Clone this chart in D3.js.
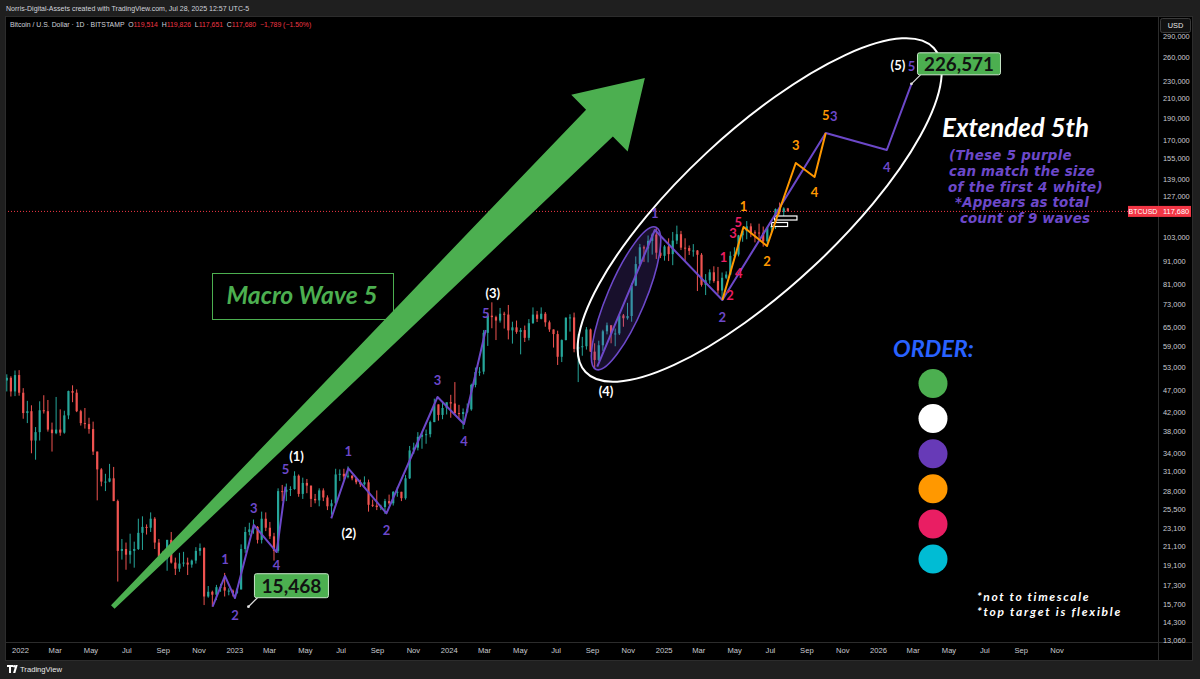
<!DOCTYPE html>
<html>
<head>
<meta charset="utf-8">
<script src="https://cdn.jsdelivr.net/npm/d3@7"></script>
<style>
  html, body { margin: 0; padding: 0; background: #1f1f1f; }
  svg { display: block; }
</style>
</head>
<body>
<svg id="chart" width="1200" height="679"></svg>
<script>
// ---------------- data: BTC/USD weekly candles (thousands of USD), Bitstamp ----------------
const weekStart = "2021-12-06";
const openK = [49.4,50.1,46.7,50.8,
  46.4,41.8,42.2,36.3,37.9,42.4,42.2,38.4,37.7,38.4,37.8,41.3,46.8,46.4,42.2,39.7,39.5,38.5,34.3,31.3,29.4,29.4,29.9,26.6,20.6,20.8,20.2,20.6,20.8,22.6,23.3,23.2,24.3,21.5,20.0,19.8,21.8,19.4,18.8,19.3,19.4,19.2,19.6,20.6,20.9,16.3,16.7,16.45,17.1,17.1,16.8,16.8,
  16.6,16.9,20.8,22.7,23.0,23.3,21.8,24.3,23.2,22.2,20.6,28.0,27.9,28.2,28.3,30.3,27.6,29.2,28.8,26.9,26.7,28.1,27.1,25.9,26.3,30.5,30.6,30.2,30.3,29.9,29.3,29.0,29.3,26.1,26.0,25.8,25.8,26.6,26.3,27.9,27.9,27.0,29.9,34.5,35.0,37.0,37.4,37.5,39.9,43.7,41.4,42.9,
  44.2,43.9,41.8,41.6,42.0,42.6,48.3,51.6,51.7,63.1,68.9,68.4,67.2,69.6,69.3,63.9,64.9,63.4,64.0,61.5,66.3,69.3,67.8,69.6,66.6,64.2,62.7,55.8,60.8,68.2,68.3,58.1,58.7,58.9,64.2,57.3,54.9,59.2,63.6,65.6,62.8,62.9,69.0,68.0,68.8,80.4,89.8,97.9,97.3,101.2,104.5,95.2,93.7,
  98.3,94.5,101.3,104.7,97.7,97.5,96.1,96.3,94.2,80.7,82.6,86.1,82.3,78.4,83.7,85.1,93.7,94.3,104.1,106.4,109.0,105.7,105.6,105.5,100.9,108.4,109.2,119.1,117.3,119.514];
const highK = [51.0,50.5,52.0,52.1,
  47.5,44.5,43.5,38.9,44.4,45.8,44.7,39.8,45.4,42.6,42.3,46.9,48.2,47.2,42.5,42.9,40.8,40.0,34.3,31.5,30.6,32.2,31.7,26.8,21.9,21.5,22.5,21.6,24.3,24.6,23.6,25.1,24.5,21.9,20.6,21.8,22.7,19.9,20.4,20.5,19.9,19.7,21.0,21.4,21.0,17.2,16.8,17.3,17.4,18.4,17.0,16.9,
  17.0,21.3,23.3,23.8,24.2,23.4,25.2,25.1,23.9,22.6,28.4,28.9,29.1,28.7,31.0,30.5,30.0,29.8,28.8,27.6,28.4,28.4,27.4,26.8,31.4,31.3,31.4,31.8,30.4,29.9,29.7,30.2,29.7,26.8,28.1,26.1,26.9,27.5,28.0,28.6,27.9,30.4,35.3,35.9,37.9,38.0,38.4,40.2,45.0,43.7,44.3,44.0,
  45.9,49.0,43.6,42.8,43.9,48.6,52.8,52.9,64.0,70.0,73.8,68.9,71.7,70.3,72.8,66.8,67.2,64.7,65.5,67.7,71.9,70.6,71.9,70.2,67.2,64.2,63.8,61.0,68.3,69.4,70.0,62.7,61.8,65.0,64.5,59.8,60.6,64.1,66.5,65.6,64.5,69.0,69.5,73.6,81.5,93.4,99.6,98.8,104.0,105.2,108.3,99.9,99.0,
  102.5,105.9,109.4,106.5,102.5,98.8,99.5,96.5,95.0,85.3,87.4,88.8,88.5,86.0,86.5,95.8,97.9,104.3,106.6,112.0,110.7,106.8,110.5,108.9,108.5,110.5,119.5,123.2,120.2,119.826];
const lowK = [46.7,45.5,45.6,45.7,
  40.6,39.7,34.0,32.9,36.3,41.7,38.0,34.3,37.5,37.2,37.6,40.5,44.2,42.0,39.2,38.6,37.6,33.7,26.7,28.7,28.0,29.3,26.6,17.6,19.7,18.7,19.3,18.9,20.7,20.7,22.4,22.7,20.8,19.8,19.6,18.6,19.3,18.2,18.5,19.0,18.2,18.9,19.3,20.1,15.6,16.2,15.468,16.0,16.7,16.3,16.4,16.3,
  16.5,16.9,20.4,22.3,22.5,21.4,21.4,22.8,21.9,19.6,20.4,26.6,26.6,27.3,28.2,27.2,26.9,27.7,25.8,26.3,25.9,26.6,25.4,24.8,26.2,29.5,29.7,29.9,29.6,29.0,28.6,28.8,25.2,25.8,25.4,25.4,24.9,26.1,26.0,27.2,26.6,26.8,29.8,33.9,34.5,34.8,35.7,36.9,39.9,40.2,40.5,41.5,
  40.8,41.6,40.6,38.5,41.8,42.3,47.7,50.6,51.0,59.0,64.6,60.8,66.5,64.5,61.0,59.7,62.8,56.5,60.2,60.7,66.1,66.7,67.6,65.1,63.4,58.5,53.5,54.3,60.7,63.5,57.1,49.0,56.1,57.9,57.2,52.5,54.6,57.5,62.6,59.8,58.9,62.4,65.1,67.5,66.8,80.2,89.3,90.8,90.6,94.3,92.2,92.6,91.4,
  91.2,89.3,99.5,96.5,91.2,94.1,93.3,78.2,80.0,76.6,81.2,81.6,77.1,74.5,83.1,85.1,92.8,93.4,100.7,102.0,103.1,100.4,102.7,98.2,99.7,105.2,107.5,115.8,114.7,117.651];
const closeK = [50.1,46.7,50.8,46.4,
  41.8,42.2,36.3,37.9,42.4,42.2,38.4,37.7,38.4,37.8,41.3,46.8,46.4,42.2,39.7,39.5,38.5,34.3,31.3,29.4,29.4,29.9,26.6,20.6,20.8,20.2,20.6,20.8,22.6,23.3,23.2,24.3,21.5,20.0,19.8,21.8,19.4,18.8,19.3,19.4,19.2,19.6,20.6,20.9,16.3,16.7,16.45,17.1,17.1,16.8,16.8,16.6,
  16.9,20.8,22.7,23.0,23.3,21.8,24.3,23.2,22.2,20.6,28.0,27.9,28.2,28.3,30.3,27.6,29.2,28.8,26.9,26.7,28.1,27.1,25.9,26.3,30.5,30.6,30.2,30.3,29.9,29.3,29.0,29.3,26.1,26.0,25.8,25.8,26.6,26.3,27.9,27.9,27.0,29.9,34.5,35.0,37.0,37.4,37.5,39.9,43.7,41.4,42.9,44.2,
  43.9,41.8,41.6,42.0,42.6,48.3,51.6,51.7,63.1,68.9,68.4,67.2,69.6,69.3,63.9,64.9,63.4,64.0,61.5,66.3,69.3,67.8,69.6,66.6,64.2,62.7,55.8,60.8,68.2,68.3,58.1,58.7,58.9,64.2,57.3,54.9,59.2,63.6,65.6,62.8,62.9,69.0,68.0,68.8,80.4,89.8,97.9,97.3,101.2,104.5,95.2,93.7,98.3,
  94.5,101.3,104.7,97.7,97.5,96.1,96.3,94.2,80.7,82.6,86.1,82.3,78.4,83.7,85.1,93.7,94.3,104.1,106.4,109.0,105.7,105.6,105.5,100.9,108.4,109.2,119.1,117.3,119.5,117.68];

const lastPrice = 117680;

// price axis ticks
const priceTicks = [290000,260000,230000,210000,190000,170000,155000,139000,127000,103000,91000,81000,73000,65000,59000,53000,47000,42000,38000,34000,31000,28000,25500,23100,21100,19100,17300,15700,14300,13060];

// Elliott wave counts: [date, price, label]
const purpleWaves = [
  [["2022-11-25",15468,""],["2022-12-16",18110,"1"],["2023-01-02",16170,"2"],["2023-02-03",23530,"3"],["2023-03-14",20480,"4"],["2023-03-29",28640,"5"]],
  [["2023-06-15",24350,""],["2023-07-14",31480,"1"],["2023-09-17",24980,"2"],["2023-12-13",45390,"3"],["2024-01-27",39510,"4"],["2024-03-04",64020,"5"]],
  [["2024-09-10",53030,""],["2024-12-17",106970,"1"],["2025-04-11",74680,"2"],["2025-10-04",176000,"3"],["2026-01-16",161300,"4"],["2026-02-27",226571,"5"]]
];
const orangeWave = [["2025-04-11",74680,""],["2025-05-17",108630,"1"],["2025-06-26",98540,"2"],["2025-08-14",150890,"3"],["2025-09-15",140430,"4"],["2025-10-04",176000,"5"]];
const pinkLabels = [["2025-04-13",93120,"1"],["2025-04-24",76620,"2"],["2025-04-29",105340,"3"],["2025-05-09",85780,"4"],["2025-05-08",111000,"5"]];
const degreeLabels = [["2023-04-17",33530,"(1)"],["2023-07-15",22580,"(2)"],["2024-03-16",77410,"(3)"],["2024-09-25",46810,"(4)"],["2026-02-04",249520,"(5)"]];

// chart drawings anchored to time/price
const arrowTail = ["2022-06-08",15440];
const arrowTip = ["2024-11-30",233420];
const bigEllipse = [["2024-08-21",51610],["2026-04-06",272300]];
const waveEllipse = [["2024-09-10",53030],["2024-12-17",106970]];
const priceLabels = [["2023-01-25",15468],["2026-02-27",226571]];
const positionBoxes = [[["2025-07-09",114950],["2025-08-16",112600]],[["2025-07-04",111170],["2025-07-31",108920]]];

// text blocks
const noteLines = ["(These 5 purple","can match the size","of the first 4 white)","*Appears as total","count of 9 waves"];
const orderColors = ["#4caf50","#ffffff","#673ab7","#ff9800","#e91e63","#00bcd4"];
const footNotes = ["*not to timescale","*top target is flexible"];

// ---------------- setup ----------------
const W = 1200, H = 679;
const plot = {left: 5, right: 1158, top: 16, bottom: 642};
const parse = d3.timeParse("%Y-%m-%d");
const x = d3.scaleTime().domain([new Date(2022,0,1), new Date(2026,0,1)]).range([20, 878]);
const y = d3.scaleLog().domain([14300, 260000]).range([622, 57]);
const px = p => [x(parse(p[0])), y(p[1])];

const PURPLE = "#6c48c9", ORANGE = "#ff9800", PINK = "#e91e63", GREEN = "#4caf50";
const UP = "#26a69a", DOWN = "#ef5350";
const FONT = "Lato, 'Open Sans', sans-serif";
const NOTE_FONT = "'DejaVu Sans', 'Open Sans', sans-serif";
const UI = "'Liberation Sans', Arial, sans-serif";

const svg = d3.select("#chart");

function fitWidth(sel, target, maxSize) {
  const len = sel.node().getComputedTextLength();
  if (len > 0) {
    let fs = parseFloat(sel.attr("font-size")) * target / len;
    if (maxSize && fs > maxSize) fs = maxSize;
    sel.attr("font-size", fs);
  }
  return sel;
}
function fitSpacing(sel, target) {
  const len = sel.node().getComputedTextLength();
  const n = sel.text().length;
  if (len > 0 && n > 1) sel.attr("letter-spacing", (target - len) / n);
  return sel;
}

// frame
svg.append("rect").attr("width", W).attr("height", H).attr("fill", "#1f1f1f");
svg.append("rect").attr("x", 5.5).attr("y", 16.5).attr("width", 1187).attr("height", 644)
  .attr("fill", "#000").attr("stroke", "#2c2c2c");
svg.append("line").attr("x1", plot.right + 0.5).attr("x2", plot.right + 0.5).attr("y1", 16).attr("y2", 661)
  .attr("stroke", "#2c2c2c");
svg.append("line").attr("x1", 5).attr("x2", 1193).attr("y1", plot.bottom + 0.5).attr("y2", plot.bottom + 0.5)
  .attr("stroke", "#2c2c2c");

svg.append("defs").append("clipPath").attr("id", "plotClip").append("rect")
  .attr("x", plot.left + 1).attr("y", plot.top + 1)
  .attr("width", plot.right - plot.left - 1).attr("height", plot.bottom - plot.top - 1);
const g = svg.append("g").attr("clip-path", "url(#plotClip)");

// ---------------- candles ----------------
const base = parse(weekStart);
const candles = openK.map((o, i) => ({
  t: d3.timeHour.offset(base, i * 168 + 84),
  o: o * 1000, h: highK[i] * 1000, l: lowK[i] * 1000, c: closeK[i] * 1000
}));
const gc = g.append("g");
gc.selectAll("line").data(candles).join("line")
  .attr("x1", d => x(d.t)).attr("x2", d => x(d.t))
  .attr("y1", d => y(d.h)).attr("y2", d => y(d.l))
  .attr("stroke", d => d.c >= d.o ? UP : DOWN).attr("stroke-width", 1);
gc.selectAll("rect").data(candles).join("rect")
  .attr("x", d => x(d.t) - 1.1).attr("width", 2.2)
  .attr("y", d => y(Math.max(d.o, d.c)))
  .attr("height", d => Math.max(1, y(Math.min(d.o, d.c)) - y(Math.max(d.o, d.c))))
  .attr("fill", d => d.c >= d.o ? UP : DOWN);

// last price line
g.append("line").attr("x1", plot.left).attr("x2", plot.right)
  .attr("y1", y(lastPrice)).attr("y2", y(lastPrice))
  .attr("stroke", "#f23645").attr("stroke-width", 1).attr("stroke-dasharray", "1,2");

// ---------------- green arrow ----------------
{
  const [tx, ty] = px(arrowTail), [hx, hy] = px(arrowTip);
  const len = Math.hypot(hx - tx, hy - ty);
  const ux = (hx - tx) / len, uy = (hy - ty) / len, nx = -uy, ny = ux;
  const headLen = 64, headW = 80, shaftW = 38, tailW = 5;
  const bx = hx - ux * headLen, by = hy - uy * headLen;
  const pts = [
    [tx + nx * tailW / 2, ty + ny * tailW / 2],
    [bx + nx * shaftW / 2, by + ny * shaftW / 2],
    [bx + nx * headW / 2, by + ny * headW / 2],
    [hx, hy],
    [bx - nx * headW / 2, by - ny * headW / 2],
    [bx - nx * shaftW / 2, by - ny * shaftW / 2],
    [tx - nx * tailW / 2, ty - ny * tailW / 2]
  ];
  g.append("path").attr("d", d3.line()(pts) + "Z").attr("fill", GREEN);
}

// Macro Wave 5 box
g.append("rect").attr("x", 212.5).attr("y", 273.5).attr("width", 181).attr("height", 46)
  .attr("fill", "none").attr("stroke", GREEN).attr("stroke-width", 1);
fitWidth(g.append("text").attr("x", 302).attr("y", 304).attr("text-anchor", "middle")
  .attr("font-family", FONT).attr("font-weight", 700).attr("font-style", "italic")
  .attr("font-size", 22).attr("fill", GREEN).text("Macro Wave 5"), 151);

// ---------------- ellipses ----------------
function ellipse(anchors, ry, stroke, fill, width, ext) {
  const [a, b] = anchors.map(px);
  const cx = (a[0] + b[0]) / 2, cy = (a[1] + b[1]) / 2;
  const rx = Math.hypot(b[0] - a[0], b[1] - a[1]) / 2 + ext;
  const ang = Math.atan2(b[1] - a[1], b[0] - a[0]) * 180 / Math.PI;
  g.append("ellipse").attr("cx", 0).attr("cy", 0).attr("rx", rx).attr("ry", ry)
    .attr("transform", `translate(${cx},${cy}) rotate(${ang})`)
    .attr("fill", fill).attr("stroke", stroke).attr("stroke-width", width);
}
ellipse(waveEllipse, 19, PURPLE, "rgba(108,72,201,0.22)", 1.6, 3);
ellipse(bigEllipse, 78, "#ffffff", "none", 2, 0);

// position boxes
positionBoxes.forEach(bx => {
  const [p1, p2] = bx.map(px);
  g.append("rect").attr("x", p1[0]).attr("y", p1[1]).attr("width", p2[0] - p1[0]).attr("height", p2[1] - p1[1])
    .attr("fill", "#000").attr("stroke", "#ffffff").attr("stroke-width", 1.2);
});

// ---------------- wave lines ----------------
function waveLine(points, color) {
  g.append("path").attr("d", d3.line()(points.map(px)))
    .attr("fill", "none").attr("stroke", color).attr("stroke-width", 2)
    .attr("stroke-linejoin", "round");
}
purpleWaves.forEach(w => waveLine(w, PURPLE));
waveLine(orangeWave, ORANGE);

function waveLabel(p, color, dx, dy, size) {
  const [lx, ly] = px(p);
  g.append("text").attr("x", lx + dx).attr("y", ly + dy).attr("dy", "0.36em")
    .attr("text-anchor", "middle").attr("font-family", FONT).attr("font-weight", 700)
    .attr("font-size", size).attr("fill", color).text(p[2]);
}
purpleWaves.forEach(w => w.filter(p => p[2]).forEach(p => {
  const up = (+p[2]) % 2 === 1;
  const shift = (w === purpleWaves[2] && p[2] === "3") ? 8 : 0;
  // the first wave-4 label sits just above the 15,468 tag
  const dy = up ? -17 : (w === purpleWaves[0] && p[2] === "4" ? 13 : 17);
  waveLabel(p, PURPLE, shift, dy, 13);
}));
orangeWave.filter(p => p[2]).forEach(p => {
  const up = (+p[2]) % 2 === 1;
  const dy = up ? (p[2] === "1" ? -21 : -18) : 15;
  waveLabel(p, ORANGE, 0, dy, 13);
});
pinkLabels.forEach(p => waveLabel(p, PINK, 0, 0, 13));
degreeLabels.forEach(p => waveLabel(p, "#ffffff", 0, 0, 13));

// ---------------- price labels ----------------
const labelSize = [[74, 24, 60], [83, 22, 70]];
priceLabels.forEach((p, i) => {
  const [ax, ay] = px(p);
  const [bw, bh, tw] = labelSize[i];
  const bx0 = ax + 6, by1 = ay - 9;
  g.append("line").attr("x1", ax).attr("y1", ay).attr("x2", bx0 + 3).attr("y2", by1)
    .attr("stroke", "#e0e0e0").attr("stroke-width", 1.2);
  g.append("circle").attr("cx", ax).attr("cy", ay).attr("r", 1.4).attr("fill", "#e0e0e0");
  g.append("rect").attr("x", bx0).attr("y", by1 - bh).attr("width", bw).attr("height", bh).attr("rx", 2)
    .attr("fill", GREEN).attr("stroke", "#c8e6c9").attr("stroke-width", 1);
  fitWidth(g.append("text").attr("x", bx0 + bw / 2).attr("y", by1 - bh / 2).attr("dy", "0.36em")
    .attr("text-anchor", "middle").attr("font-family", FONT).attr("font-weight", 700)
    .attr("font-size", 19).attr("fill", "#111").text(d3.format(",")(p[1])), tw);
});

// ---------------- free text ----------------
fitWidth(g.append("text").attr("x", 942).attr("y", 137)
  .attr("font-family", FONT).attr("font-weight", 700).attr("font-style", "italic")
  .attr("font-size", 22).attr("fill", "#ffffff").text("Extended 5th"), 147);

const noteX = [949, 949, 948, 955, 960], noteY = [160, 176, 192, 207, 223], noteW = [123, 146, 155, 134, 130];
noteLines.forEach((t, i) => {
  const s = g.append("text").attr("x", noteX[i]).attr("y", noteY[i])
    .attr("font-family", NOTE_FONT).attr("font-style", "oblique").attr("font-weight", 700)
    .attr("font-size", 13).attr("fill", PURPLE).text(t);
  fitWidth(s, noteW[i], 13.4);
  fitSpacing(s, noteW[i]);
});

fitWidth(g.append("text").attr("x", 893).attr("y", 357)
  .attr("font-family", FONT).attr("font-weight", 700).attr("font-style", "italic")
  .attr("font-size", 20).attr("fill", "#2962ff").text("ORDER:"), 81);
g.selectAll("circle.order").data(orderColors).join("circle").attr("class", "order")
  .attr("cx", 933).attr("cy", (d, i) => 383.5 + i * 35.1).attr("r", 14.5).attr("fill", d => d);

const footW = [113, 145];
footNotes.forEach((t, i) => {
  fitSpacing(g.append("text").attr("x", 977).attr("y", 601 + i * 14.5)
    .attr("font-family", FONT).attr("font-weight", 700).attr("font-style", "italic")
    .attr("font-size", 12).attr("fill", "#ffffff").text(t), footW[i]);
});

// ---------------- axes ----------------
const tickDates = d3.timeMonth.every(2).range(new Date(2022, 0, 1), new Date(2026, 11, 2));
const fmtMonth = d3.timeFormat("%b"), fmtYear = d3.timeFormat("%Y");
const xAxis = svg.append("g").attr("transform", `translate(0,${plot.bottom})`)
  .call(d3.axisBottom(x).tickValues(tickDates)
    .tickFormat(d => d.getMonth() === 0 ? fmtYear(d) : fmtMonth(d)).tickSize(0).tickPadding(6));
xAxis.select(".domain").remove();
xAxis.selectAll("text").attr("fill", "#c9cbd1").attr("font-family", UI).attr("font-size", 7.6);

const yAxis = svg.append("g").attr("transform", `translate(${plot.right},0)`)
  .call(d3.axisRight(y).tickValues(priceTicks).tickFormat(d3.format(",")).tickSize(0).tickPadding(5));
yAxis.select(".domain").remove();
yAxis.selectAll("text").attr("fill", "#c9cbd1").attr("font-family", UI).attr("font-size", 7.4);

// USD unit box
svg.append("rect").attr("x", 1160.5).attr("y", 18.5).attr("width", 30).attr("height", 14).attr("rx", 2)
  .attr("fill", "#111").attr("stroke", "#3a3a3a");
svg.append("text").attr("x", 1175.5).attr("y", 25.5).attr("dy", "0.36em").attr("text-anchor", "middle")
  .attr("font-family", UI).attr("font-size", 7.4).attr("fill", "#e6e6e6").text("USD");

// last price tags
{
  const ly = y(lastPrice);
  svg.append("rect").attr("x", 1128).attr("y", ly - 5.5).attr("width", 30).attr("height", 11).attr("fill", "#f23645");
  svg.append("text").attr("x", 1143).attr("y", ly).attr("dy", "0.36em").attr("text-anchor", "middle")
    .attr("font-family", UI).attr("font-size", 7).attr("fill", "#fff").text("BTCUSD");
  svg.append("rect").attr("x", 1158).attr("y", ly - 5.5).attr("width", 33).attr("height", 11).attr("fill", "#f23645");
  svg.append("text").attr("x", 1163).attr("y", ly).attr("dy", "0.36em")
    .attr("font-family", UI).attr("font-size", 7.4).attr("fill", "#fff").text(d3.format(",")(lastPrice));
}

// ---------------- header & footer ----------------
fitWidth(svg.append("text").attr("x", 6).attr("y", 11).attr("font-family", UI).attr("font-size", 8)
  .attr("fill", "#d1d4dc").text("Norris-Digital-Assets created with TradingView.com, Jul 28, 2025 12:57 UTC-5"), 244);

{
  const t = svg.append("text").attr("x", 10).attr("y", 27).attr("font-family", UI).attr("font-size", 8).attr("fill", "#d1d4dc");
  const parts = [
    ["Bitcoin / U.S. Dollar \u00b7 1D \u00b7 BITSTAMP  ", "#d1d4dc"],
    ["O", "#d1d4dc"], ["119,514", "#f23645"], ["  H", "#d1d4dc"], ["119,826", "#f23645"],
    ["  L", "#d1d4dc"], ["117,651", "#f23645"], ["  C", "#d1d4dc"], ["117,680", "#f23645"],
    ["  \u22121,789 (\u22121.50%)", "#f23645"]
  ];
  parts.forEach(p => t.append("tspan").attr("fill", p[1]).attr("xml:space", "preserve").text(p[0]));
  t.attr("xml:space", "preserve");
  fitWidth(t, 302);
}

// TradingView footer mark
svg.append("path").attr("d", "M7,665h6v2h-2v6h-2v-6h-2z").attr("fill", "#fff");
svg.append("circle").attr("cx", 14.2).attr("cy", 666.2).attr("r", 1.2).attr("fill", "#fff");
svg.append("path").attr("d", "M15.5,665h2.2l-2.4,8h-2.2z").attr("fill", "#fff");
fitWidth(svg.append("text").attr("x", 20).attr("y", 672).attr("font-family", UI).attr("font-size", 9)
  .attr("fill", "#e8e8e8").text("TradingView"), 42);
</script>
</body>
</html>
